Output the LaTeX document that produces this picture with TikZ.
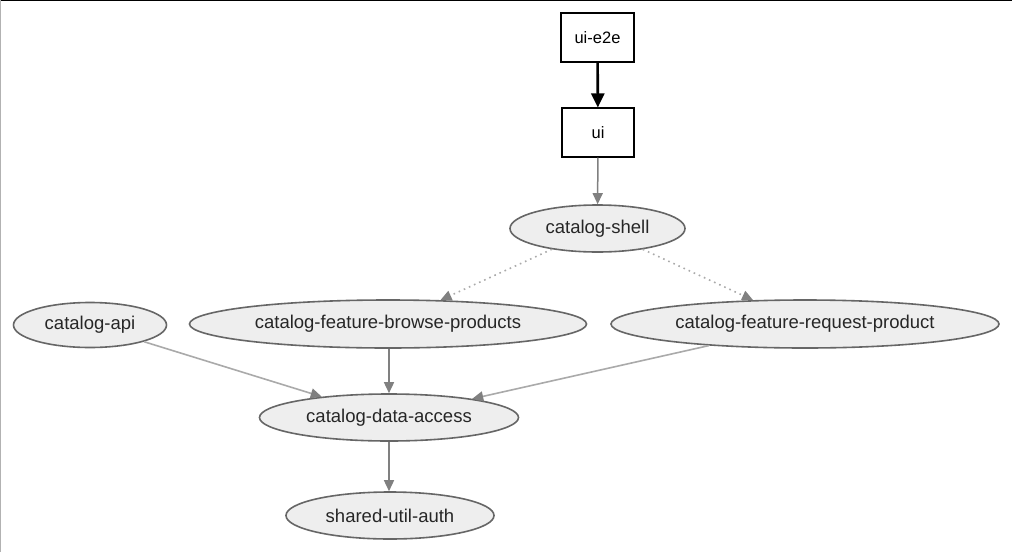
\documentclass[tikz,border=0pt]{standalone}
\usepackage{fontspec}
\setmainfont{Liberation Sans}
\usetikzlibrary{shapes.geometric,arrows.meta}
\definecolor{nodefill}{HTML}{EEEEEE}
\definecolor{nodeline}{HTML}{666666}
\definecolor{txt}{HTML}{262626}
\definecolor{edgegray}{HTML}{808080}
\definecolor{edgelight}{HTML}{AAAAAA}
\tikzset{
  pkg/.style={ellipse, draw=nodeline, fill=nodefill, line width=1.6pt, text=txt, font=\fontsize{18.5}{20}\selectfont, inner sep=0pt},
  box/.style={rectangle, draw=black, fill=white, line width=1.1pt, text=black, font=\fontsize{16.5}{18}\selectfont, inner sep=0pt},
  tip/.style={-{Triangle[length=14pt,width=13pt]}},
  strongdep/.style={tip, draw=black, line width=2.6pt},
  dep/.style={-{Triangle[length=11pt,width=10pt]}, draw=edgegray, line width=1.5pt},
  lightdep/.style={-{Triangle[length=11pt,width=10pt,fill=edgegray,color=edgegray]}, draw=edgelight, line width=1.6pt},
  lazydep/.style={-{Triangle[length=11pt,width=10pt,fill=edgegray,color=edgegray]}, draw=edgelight, line width=1.6pt, dash pattern=on 1.6pt off 4pt},
}
\begin{document}
\begin{tikzpicture}[x=1pt,y=-1pt]
\useasboundingbox (0,0) rectangle (1012,552);
\fill[white] (0,0) rectangle (1012,552);
\draw[black, line width=2pt] (0,0) -- (1012,0);
\draw[black!30, line width=1.5pt] (0,0) -- (0,552);

\node[box, minimum width=73pt, minimum height=49pt] (e2e) at (597.5,37.5) {ui-e2e};
\node[box, minimum width=72pt, minimum height=49pt] (ui) at (598,132.5) {ui};
\node[pkg, minimum width=175pt, minimum height=47pt] (shell) at (597.5,228.5) {catalog-shell};
\node[pkg, minimum width=153pt, minimum height=45pt] (api) at (90,325) {catalog-api};
\node[pkg, minimum width=397pt, minimum height=48pt] (browse) at (388,324) {catalog-feature-browse-products};
\node[pkg, minimum width=388pt, minimum height=48pt] (request) at (805,324) {catalog-feature-request-product};
\node[pkg, minimum width=259pt, minimum height=47pt] (data) at (389,417.5) {catalog-data-access};
\node[pkg, minimum width=208pt, minimum height=47pt] (auth) at (390,515.5) {shared-util-auth};

\draw[strongdep] (e2e) -- (ui);
\draw[dep] (ui) -- (shell);
\draw[lazydep] (shell) -- (browse);
\draw[lazydep] (shell) -- (request);
\draw[lightdep] (api) -- (data);
\draw[dep] (browse.south -| data) -- (data);
\draw[lightdep] (request) -- (data);
\draw[dep] (data) -- (data |- auth.north);
\end{tikzpicture}
\end{document}
